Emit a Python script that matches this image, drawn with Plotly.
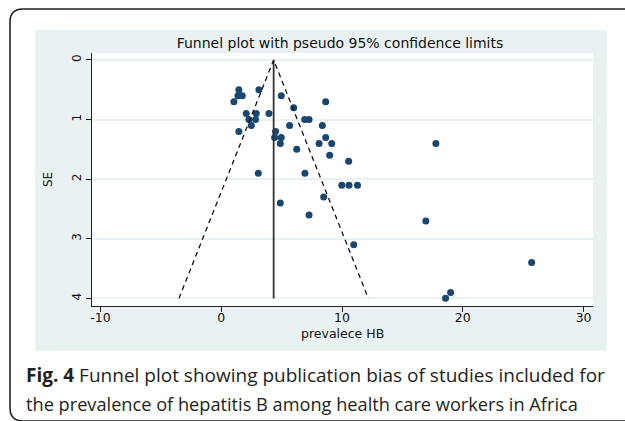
import plotly.graph_objects as go

# ---- data ----
prevalence = [1.46, 3.12, 1.38, 1.74, 4.97, 1.05, 8.65, 6.00, 2.07, 2.90, 3.95,
              2.29, 2.84, 6.91, 7.27, 2.49, 5.66, 8.37, 1.46, 4.50, 4.42, 4.97,
              8.65, 4.89, 8.10, 9.15, 17.77, 6.25, 8.98, 10.55, 3.07, 6.93,
              9.98, 10.58, 11.28, 8.48, 4.89, 7.27, 16.94, 10.97, 25.70, 18.99, 18.57]
se = [0.5, 0.5, 0.6, 0.6, 0.6, 0.7, 0.7, 0.8, 0.9, 0.9, 0.9,
      1.0, 1.0, 1.0, 1.0, 1.1, 1.1, 1.1, 1.2, 1.2, 1.3, 1.3,
      1.3, 1.4, 1.4, 1.4, 1.4, 1.5, 1.6, 1.7, 1.9, 1.9,
      2.1, 2.1, 2.1, 2.3, 2.4, 2.6, 2.7, 3.1, 3.4, 3.9, 4.0]
pooled_estimate = 4.34
se_max = 4.0
z95 = 1.96
x_ticks = [-10, 0, 10, 20, 30]
x_tick_labels = ["-10", "0", "10", "20", "30"]
y_ticks = [0, 1, 2, 3, 4]

title_text = "Funnel plot with pseudo 95% confidence limits"
x_title = "prevalece HB"
y_title = "SE"
caption_line1 = "<b>Fig. 4</b> Funnel plot showing publication bias of studies included for"
caption_line2 = "the prevalence of hepatitis B among health care workers in Africa"

# ---- layout geometry (pixels) ----
W, H = 625, 421
L, R, T, B = 92, 593, 53, 306


def px(x):
    return (x - L) / (R - L)


def py(y):
    return (B - y) / (B - T)


NAVY = "#1a476f"
BG = "#eaf1f3"
FONT = "DejaVu Sans"

fig = go.Figure()
fig.add_trace(go.Scatter(
    x=prevalence, y=se, mode="markers",
    marker=dict(color=NAVY, size=7, line=dict(width=0)),
    showlegend=False, hoverinfo="skip"))
fig.add_trace(go.Scatter(
    x=[pooled_estimate, pooled_estimate], y=[0, se_max], mode="lines",
    line=dict(color="#333333", width=1.8), showlegend=False, hoverinfo="skip"))
fig.add_trace(go.Scatter(
    x=[pooled_estimate - z95 * se_max, pooled_estimate, pooled_estimate + z95 * se_max],
    y=[se_max, 0, se_max], mode="lines",
    line=dict(color="#111111", width=1.3, dash="5px,4px"),
    showlegend=False, hoverinfo="skip"))

r = 13
x0, x1, y0, y1 = 10, 660, 9, 421
border_path = (
    f"M {px(x0)},{py(y0 + r)} Q {px(x0)},{py(y0)} {px(x0 + r)},{py(y0)} "
    f"L {px(x1 - r)},{py(y0)} Q {px(x1)},{py(y0)} {px(x1)},{py(y0 + r)} "
    f"L {px(x1)},{py(y1 - r)} Q {px(x1)},{py(y1)} {px(x1 - r)},{py(y1)} "
    f"L {px(x0 + r)},{py(y1)} Q {px(x0)},{py(y1)} {px(x0)},{py(y1 - r)} Z"
)

shapes = [
    dict(type="path", path=border_path, xref="paper", yref="paper",
         line=dict(color="#222222", width=1.6), fillcolor="rgba(0,0,0,0)", layer="below"),
    dict(type="rect", xref="paper", yref="paper", x0=px(35), x1=px(607), y0=py(30), y1=py(351),
         fillcolor=BG, line=dict(width=0), layer="below"),
    dict(type="rect", xref="paper", yref="paper", x0=0, x1=1, y0=0, y1=1,
         fillcolor="white", line=dict(width=0), layer="below"),
]

annotations = [
    dict(text=y_title, x=px(48), y=py(180), xref="paper", yref="paper", showarrow=False,
         textangle=-90, font=dict(family=FONT, size=12, color="#111111"),
         xanchor="center", yanchor="middle"),
    dict(text=x_title, x=px(342), y=py(333), xref="paper", yref="paper", showarrow=False,
         font=dict(family=FONT, size=12.5, color="#111111"), xanchor="center", yanchor="middle"),
    dict(text=caption_line1, x=px(24), y=py(375), xref="paper", yref="paper", showarrow=False,
         font=dict(family="Open Sans", size=19, color="#231f20"), xanchor="left", yanchor="middle"),
    dict(text=caption_line2, x=px(24), y=py(403.5), xref="paper", yref="paper", showarrow=False,
         font=dict(family="Open Sans", size=18.2, color="#231f20"), xanchor="left", yanchor="middle"),
]

fig.update_layout(
    width=W, height=H,
    margin=dict(l=L, r=W - R, t=T, b=H - B, pad=0),
    paper_bgcolor="white", plot_bgcolor="white",
    title=dict(text=title_text, x=340 / W, xref="container", xanchor="center",
               y=1 - 43 / H, yref="container", yanchor="middle",
               font=dict(family=FONT, size=14, color="#111111")),
    shapes=shapes, annotations=annotations,
    xaxis=dict(range=[-10.70, 30.78], tickvals=x_ticks, ticktext=x_tick_labels,
               ticks="outside", ticklen=5, ticklabelstandoff=-5,
               tickwidth=1.2, tickcolor="#222222", showline=True, linecolor="#222222",
               linewidth=1.3, showgrid=False, zeroline=False,
               tickfont=dict(family=FONT, size=12.5, color="#111111")),
    yaxis=dict(range=[4.128, -0.117], tickvals=y_ticks, ticks="outside", ticklen=5,
               tickwidth=1.2, tickcolor="#222222", showline=True, linecolor="#222222",
               linewidth=1.3, showgrid=True, gridcolor=BG, gridwidth=1.5, zeroline=False,
               tickangle=-90, tickfont=dict(family=FONT, size=12, color="#111111")),
)

fig.write_html("out.html")
